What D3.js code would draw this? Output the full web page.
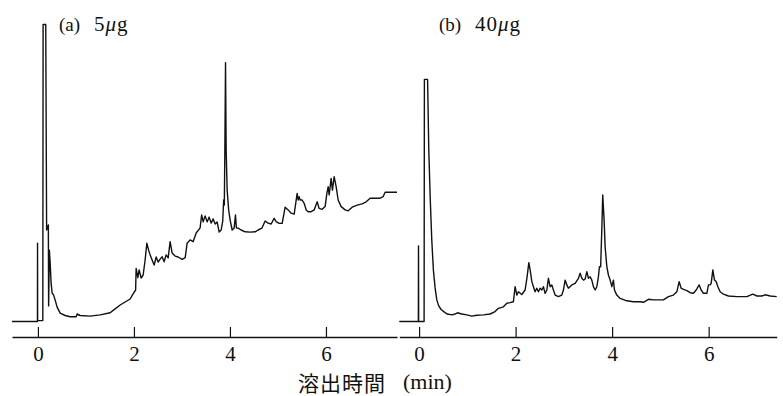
<!DOCTYPE html>
<html>
<head>
<meta charset="utf-8">
<script src="https://cdn.jsdelivr.net/npm/d3@7"></script>
<style>
  html, body { margin: 0; padding: 0; background: #fff; }
  svg { display: block; }
</style>
</head>
<body>
<svg id="chart" width="783" height="396"></svg>
<script>
// Elution-time ticks (min) shared by both chromatograms
const tickMinutes = [0, 2, 4, 6];

// Panel captions
const panelLabels = ["(a)", "(b)"];
const panelAmounts = [["5", "μ", "g"], ["40", "μ", "g"]];

// X-axis title
const axisTitleJa = "溶出時間";
const axisTitleUnit = "(min)";

// Chromatogram (a) 5 μg : [elution time (min), detector response (relative, 0–100)]
const traceA = [
  [-0.54, 0], [-0.02, 0], [-0.01, 0], [-0.008, 26.1], [-0.006, 0.3], [0.102, 0.3],
  [0.108, 99], [0.163, 99], [0.181, 30.5], [0.217, 32.2], [0.223, 5.2], [0.238, 23.8],
  [0.254, 19.8], [0.275, 12.8], [0.296, 9.5], [0.327, 8.8], [0.358, 7.2], [0.4, 4.8],
  [0.463, 2.8], [0.567, 2.0], [0.671, 1.6], [0.796, 1.6], [0.817, 2.5], [0.879, 2.0],
  [1.088, 1.8], [1.296, 2.2], [1.504, 2.9], [1.608, 4.2], [1.713, 5.5], [1.817, 6.5],
  [1.921, 7.5], [1.983, 9.2], [2.035, 10.5], [2.046, 17.7], [2.081, 14.6], [2.108, 17.2],
  [2.15, 14.5], [2.192, 15.5], [2.233, 20.5], [2.269, 26.1], [2.306, 23.8], [2.338, 22.2],
  [2.379, 20.5], [2.421, 18.8], [2.463, 21.5], [2.504, 19.8], [2.546, 20.8], [2.588, 21.6],
  [2.629, 19.9], [2.671, 22.2], [2.713, 21.2], [2.754, 26.6], [2.796, 22.8], [2.858, 21.8],
  [2.921, 21.5], [3.004, 20.7], [3.068, 21.3], [3.108, 26.1], [3.171, 27.2], [3.233, 26.6],
  [3.296, 29.5], [3.379, 31.2], [3.41, 35.5], [3.442, 33.2], [3.483, 35.2], [3.525, 33.2],
  [3.567, 34.8], [3.608, 32.8], [3.65, 34.2], [3.692, 32.5], [3.733, 33.2], [3.775, 29.8],
  [3.817, 30.5], [3.85, 33.5], [3.869, 40.5], [3.883, 38.8], [3.894, 57.2], [3.908, 86.3],
  [3.921, 57.2], [3.942, 43.8], [3.973, 37.2], [4.004, 33.8], [4.046, 30.5], [4.088, 31.2],
  [4.115, 35.5], [4.135, 31.2], [4.171, 31.1], [4.233, 30.5], [4.317, 29.9], [4.421, 29.8],
  [4.525, 29.9], [4.588, 30.5], [4.665, 31.1], [4.733, 33.5], [4.796, 32.8], [4.858, 32.5],
  [4.921, 34.4], [4.963, 33.3], [5.025, 32.7], [5.088, 32.7], [5.15, 38.1], [5.213, 37.2],
  [5.275, 36.1], [5.338, 35.8], [5.4, 42.7], [5.421, 40.5], [5.442, 41.6], [5.463, 40.5],
  [5.504, 40.5], [5.546, 39.4], [5.588, 37.2], [5.629, 36.6], [5.692, 36.6], [5.754, 37.2],
  [5.817, 39.9], [5.858, 37.7], [5.921, 37.4], [5.983, 38.3], [6.019, 42.7], [6.046, 44.9],
  [6.067, 42.2], [6.108, 47.7], [6.135, 43.8], [6.171, 48.3], [6.213, 44.9], [6.254, 40.5],
  [6.317, 38.3], [6.4, 37.2], [6.463, 36.9], [6.546, 38.1], [6.65, 38.8], [6.754, 39.2],
  [6.838, 39.9], [6.921, 41.1], [7.129, 41.1], [7.19, 41.6], [7.233, 43.1], [7.48, 43.1]
];

// Chromatogram (b) 40 μg : [elution time (min), detector response (relative, 0–100)]
const traceB = [
  [-0.41, 0], [-0.015, 0], [-0.012, 25.2], [-0.009, 0], [0.104, 0], [0.11, 80.7],
  [0.176, 80.7], [0.201, 57.2], [0.232, 40.5], [0.263, 27.2], [0.296, 17.2], [0.332, 11.2],
  [0.367, 7.2], [0.404, 5.3], [0.456, 4.0], [0.518, 3.2], [0.58, 2.5], [0.684, 2.2],
  [0.746, 2.5], [0.794, 2.9], [0.885, 2.5], [0.989, 2.2], [1.092, 1.8], [1.196, 2.1],
  [1.333, 2.2], [1.472, 2.5], [1.575, 3.3], [1.644, 4.4], [1.747, 4.9], [1.818, 6.1],
  [1.886, 6.3], [1.954, 6.6], [1.99, 11.6], [2.025, 8.8], [2.058, 9.9], [2.128, 9.0],
  [2.197, 10.5], [2.238, 14.9], [2.274, 19.6], [2.301, 17.2], [2.336, 13.3], [2.369, 11.6],
  [2.404, 9.9], [2.439, 11.1], [2.473, 9.9], [2.508, 11.1], [2.543, 10.5], [2.576, 11.6],
  [2.611, 9.4], [2.647, 10.5], [2.68, 14.4], [2.715, 11.6], [2.75, 12.2], [2.783, 10.5],
  [2.819, 8.8], [2.887, 8.3], [2.957, 8.8], [2.991, 10.5], [3.026, 13.8], [3.061, 12.2],
  [3.094, 11.1], [3.165, 12.2], [3.233, 12.7], [3.302, 14.4], [3.337, 16.1], [3.372, 14.4],
  [3.405, 13.8], [3.44, 14.1], [3.476, 16.6], [3.509, 14.4], [3.544, 14.9], [3.579, 13.8],
  [3.612, 11.6], [3.648, 10.5], [3.683, 11.6], [3.716, 14.9], [3.737, 18.3], [3.762, 18.2],
  [3.786, 30.5], [3.805, 42.2], [3.834, 33.8], [3.855, 24.9], [3.89, 18.3], [3.923, 15.5],
  [3.959, 13.8], [3.994, 11.6], [4.027, 13.8], [4.048, 10.5], [4.097, 8.8], [4.166, 7.7],
  [4.305, 6.9], [4.441, 6.6], [4.58, 6.6], [4.649, 6.4], [4.752, 7.4], [4.856, 7.2],
  [5.063, 7.2], [5.167, 8.3], [5.27, 8.8], [5.341, 9.9], [5.389, 13.3], [5.43, 11.1],
  [5.478, 10.7], [5.548, 10.3], [5.617, 9.6], [5.685, 9.4], [5.741, 10.5], [5.803, 12.2],
  [5.845, 10.5], [5.892, 9.4], [5.963, 9.4], [5.996, 12.2], [6.031, 12.2], [6.052, 12.7],
  [6.087, 17.2], [6.12, 13.8], [6.155, 13.3], [6.191, 11.6], [6.238, 9.9], [6.307, 9.1],
  [6.41, 8.5], [6.584, 8.3], [6.792, 8.3], [6.916, 9.1], [6.999, 8.5], [7.102, 8.5],
  [7.171, 8.9], [7.275, 8.5], [7.41, 8.3]
];

const svg = d3.select("#chart");
const ink = "#111";
const serif = "'Liberation Serif', 'DejaVu Serif', serif";

// Response scale shared by both panels
const y = d3.scaleLinear().domain([0, 100]).range([321.5, 21.5]);
const axisY = 337;

const panels = [
  { trace: traceA, domain: [-0.54, 7.48], range: [12, 397],
    labelX: 59, amountX: 94 },
  { trace: traceB, domain: [-0.41, 7.41], range: [399.3, 776.7],
    labelX: 439, amountX: 475 }
];

panels.forEach((p, i) => {
  const x = d3.scaleLinear().domain(p.domain).range(p.range);
  const g = svg.append("g");

  // Time axis: ticks point up into the plot, numbers below the line
  const axis = d3.axisBottom(x)
    .tickValues(tickMinutes)
    .tickFormat(d3.format("d"))
    .tickSizeInner(-10)
    .tickSizeOuter(0)
    .tickPadding(9.5);

  const ax = g.append("g")
    .attr("transform", `translate(0,${axisY})`)
    .call(axis);
  ax.select(".domain").attr("stroke", ink).attr("stroke-width", 1.4);
  ax.selectAll(".tick line").attr("stroke", ink).attr("stroke-width", 1.2);
  ax.selectAll(".tick text")
    .attr("fill", ink)
    .style("font-family", serif)
    .style("font-size", "21px");

  // Chromatogram trace
  const line = d3.line()
    .x(d => x(d[0]))
    .y(d => y(d[1]));
  g.append("path")
    .datum(p.trace)
    .attr("fill", "none")
    .attr("stroke", ink)
    .attr("stroke-width", 1.4)
    .attr("stroke-linejoin", "round")
    .attr("d", line);

  // Panel caption, e.g. "(a)  5μg"
  g.append("text")
    .attr("x", p.labelX).attr("y", 31)
    .attr("fill", ink)
    .style("font-family", serif)
    .style("font-size", "19px")
    .text(panelLabels[i]);

  const amt = g.append("text")
    .attr("x", p.amountX).attr("y", 31)
    .attr("fill", ink)
    .style("font-family", serif)
    .style("font-size", "21px")
    .style("letter-spacing", "1px");
  amt.append("tspan").text(panelAmounts[i][0]);
  amt.append("tspan").style("font-style", "italic").text(panelAmounts[i][1]);
  amt.append("tspan").text(panelAmounts[i][2]);
});

// Shared x-axis title
svg.append("text")
  .attr("x", 298).attr("y", 391)
  .attr("fill", ink)
  .style("font-family", "'Noto Sans CJK JP', sans-serif")
  .style("font-size", "21px")
  .style("letter-spacing", "1px")
  .text(axisTitleJa);

svg.append("text")
  .attr("x", 403).attr("y", 388.5)
  .attr("fill", ink)
  .style("font-family", serif)
  .style("font-size", "22px")
  .text(axisTitleUnit);
</script>
</body>
</html>
